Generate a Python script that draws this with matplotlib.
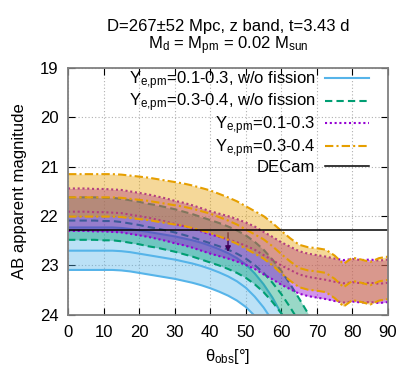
import numpy as np
import matplotlib
matplotlib.use("Agg")
import matplotlib.pyplot as plt

plt.rcParams['font.family'] = ['Liberation Sans', 'DejaVu Sans']
plt.rcParams['mathtext.fontset'] = 'custom'
plt.rcParams['mathtext.rm'] = 'Liberation Sans'
plt.rcParams['mathtext.it'] = 'Liberation Sans'

# viewing angle grid [deg]
theta = np.arange(0, 90.1, 2.5)

# median AB magnitudes (nan = below the frame)
nan = np.nan
mag_blue = [22.70, 22.70, 22.70, 22.70, 22.70, 22.70, 22.71, 22.73, 22.76, 22.79,
            22.82, 22.85, 22.88, 22.92, 22.96, 23.01, 23.07, 23.14, 23.22, 23.32,
            23.45, 23.63, 23.85, 24.12, 24.45, 24.80, 25.20, nan, nan, nan,
            nan, nan, nan, nan, nan, nan, nan]
mag_green = [22.09, 22.09, 22.09, 22.09, 22.10, 22.10, 22.12, 22.15, 22.18, 22.22,
             22.25, 22.29, 22.33, 22.38, 22.43, 22.49, 22.55, 22.61, 22.68, 22.76,
             22.86, 22.99, 23.15, 23.35, 23.58, 23.85, 24.14, 24.44, 24.75, 25.05,
             nan, nan, nan, nan, nan, nan, nan]
mag_purple = [21.91, 21.91, 21.91, 21.92, 21.92, 21.93, 21.94, 21.97, 22.00, 22.03,
              22.07, 22.11, 22.16, 22.20, 22.25, 22.31, 22.37, 22.42, 22.47, 22.53,
              22.60, 22.68, 22.79, 22.89, 23.00, 23.09, 23.18, 23.23, 23.26, 23.29,
              23.33, 23.36, 23.34, 23.36, 23.35, 23.37, 23.35]
mag_orange = [21.62, 21.62, 21.62, 21.62, 21.62, 21.62, 21.63, 21.65, 21.67, 21.69,
              21.72, 21.75, 21.78, 21.81, 21.85, 21.90, 21.95, 22.02, 22.09, 22.17,
              22.27, 22.37, 22.47, 22.61, 22.77, 22.92, 23.05, 23.10, 23.12, 23.15,
              23.27, 23.44, 23.31, 23.35, 23.40, 23.32, 23.29]

# distance uncertainty (267-52 / 267+52 Mpc) as magnitude offsets
dm_near = -0.47
dm_far = 0.39

decam_limit = 22.28
decam_arrow_theta = 45
decam_arrow_end = 22.78

labels = [r'Y$_{\rm e{,}pm}$=0.1-0.3, w/o fission',
          r'Y$_{\rm e{,}pm}$=0.3-0.4, w/o fission',
          r'Y$_{\rm e{,}pm}$=0.1-0.3',
          r'Y$_{\rm e{,}pm}$=0.3-0.4']
colors = ['#56B4E9', '#009E73', '#9400D3', '#E69F00']
styles = ['-', (0, (3.5, 2)), (0, (1, 1.3)), (0, (4, 1.5, 1, 1.5))]
alphas = [0.4, 0.4, 0.42, 0.4]

fig = plt.figure(figsize=(4.15, 3.84), dpi=100)
ax = fig.add_axes([0.164, 0.180, 0.771, 0.643])

handles = []
for i, mag in enumerate([mag_blue, mag_green, mag_purple, mag_orange]):
    m = np.array(mag)
    ax.fill_between(theta, m + dm_near, m + dm_far, color=colors[i],
                    alpha=alphas[i], lw=0, zorder=2 + i)
    for off in [dm_near, 0, dm_far]:
        ln, = ax.plot(theta, m + off, color=colors[i], ls=styles[i], lw=1.5,
                      zorder=2 + i)
    handles.append(ln)
    if i == 1:
        # upper limit arrow sits under the purple band
        ax.annotate('', xy=(decam_arrow_theta, decam_arrow_end),
                    xytext=(decam_arrow_theta, decam_limit),
                    arrowprops=dict(arrowstyle='-|>', color='black', lw=1,
                                    mutation_scale=8), zorder=3.5)

dl = ax.axhline(decam_limit, color='black', lw=1.1, zorder=10)
handles.append(dl)

ax.set_xlim(0, 90)
ax.set_ylim(24, 19)
ax.set_xticks(np.arange(0, 91, 10))
ax.set_yticks(np.arange(19, 24.1, 1))
ax.grid(True, color='#b0b0b0', ls=(0, (1, 2)), lw=0.8)
ax.set_axisbelow(True)
ax.tick_params(direction='in', length=5, top=True, right=True,
               labelsize=12, pad=7, color='black')
for s in ax.spines.values():
    s.set_color('#808080')
    s.set_linewidth(1.3)
    s.set_zorder(20)

ax.set_xlabel(r'$\theta_{\rm obs}$[°]', fontsize=12, labelpad=5)
ax.set_ylabel('AB apparent magnitude', fontsize=12, labelpad=9)

fig.text(0.55, 0.93, 'D=267±52 Mpc, z band, t=3.43 d', ha='center',
         va='center', fontsize=12)
fig.text(0.55, 0.882, r'M$_{\rm d}$ = M$_{\rm pm}$ = 0.02 M$_{\rm sun}$',
         ha='center', va='center', fontsize=12)

leg = ax.legend(handles, labels + ['DECam'], loc='upper right',
                bbox_to_anchor=(0.94, 0.995), frameon=False, markerfirst=False,
                fontsize=12, handlelength=2.6, handletextpad=0.6,
                labelspacing=0.0, borderpad=0, borderaxespad=0)
leg.set_zorder(30)

fig.savefig('out.png', dpi=100)
